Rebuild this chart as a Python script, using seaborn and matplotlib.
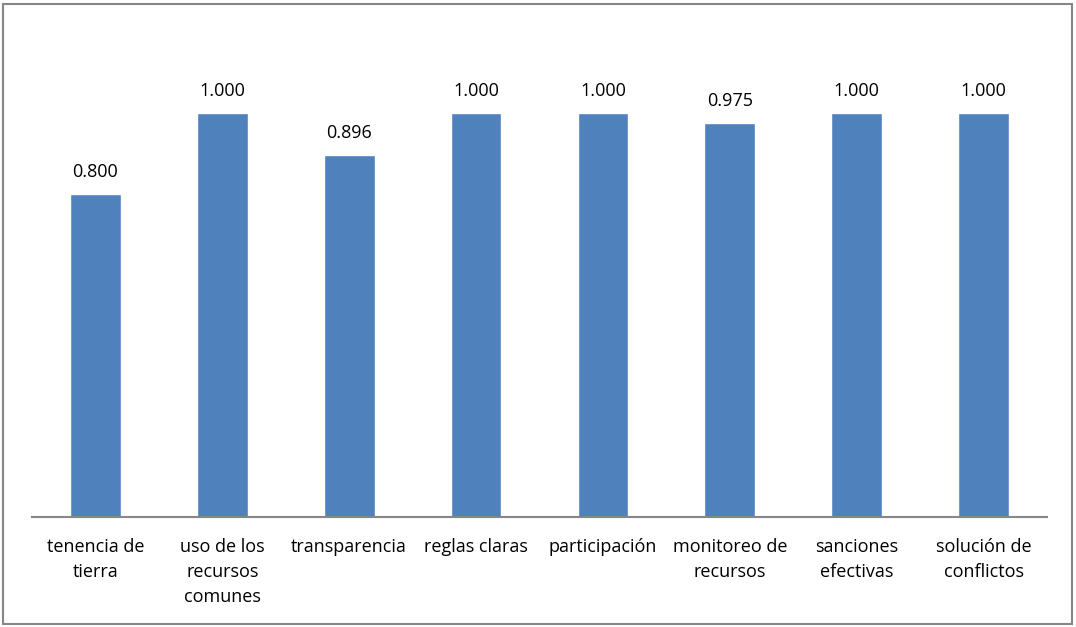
"""Bar chart of governance indicator scores (Excel-style recreation)."""

import matplotlib

matplotlib.use("Agg")

import matplotlib.pyplot as plt
import pandas as pd
import seaborn as sns
from matplotlib.patches import Rectangle

categories = [
    "tenencia de\ntierra",
    "uso de los\nrecursos\ncomunes",
    "transparencia",
    "reglas claras",
    "participación",
    "monitoreo de\nrecursos",
    "sanciones\nefectivas",
    "solución de\nconflictos",
]
scores = [0.800, 1.000, 0.896, 1.000, 1.000, 0.975, 1.000, 1.000]

BAR_COLOR = "#4F81BD"

sns.set_theme(style="white")
plt.rcParams["font.family"] = ["Open Sans", "DejaVu Sans"]

df = pd.DataFrame({"category": categories, "score": scores})

fig = plt.figure(figsize=(10.76, 6.27), dpi=100)
ax = fig.add_axes([0.0297, 0.1754, 0.9433, 0.7735])

sns.barplot(data=df, x="category", y="score", color=BAR_COLOR, width=0.40,
            saturation=1, ax=ax)

for bar, val in zip(ax.patches, scores):
    ax.annotate(f"{val:.3f}", (bar.get_x() + bar.get_width() / 2, val),
                xytext=(0, 9), textcoords="offset points",
                ha="center", va="bottom", fontsize=13, color="#000000")

ax.set_ylim(0, 1.2)
ax.set_xlim(-0.5, len(categories) - 0.5)
ax.set_xlabel("")
ax.set_ylabel("")
ax.set_yticks([])
ax.tick_params(axis="x", length=0, pad=15, labelsize=13, colors="#000000")
for lbl in ax.get_xticklabels():
    lbl.set_linespacing(1.5)
    lbl.set_verticalalignment("top")

for side in ("top", "right", "left"):
    ax.spines[side].set_visible(False)
ax.spines["bottom"].set_color("#868686")
ax.spines["bottom"].set_linewidth(1.5)

# outer chart-area border
fig.patches.append(Rectangle((0.003, 0.004), 0.993, 0.99, transform=fig.transFigure,
                             fill=False, edgecolor="#868686", linewidth=1.5))

fig.savefig("out.png", dpi=100)
